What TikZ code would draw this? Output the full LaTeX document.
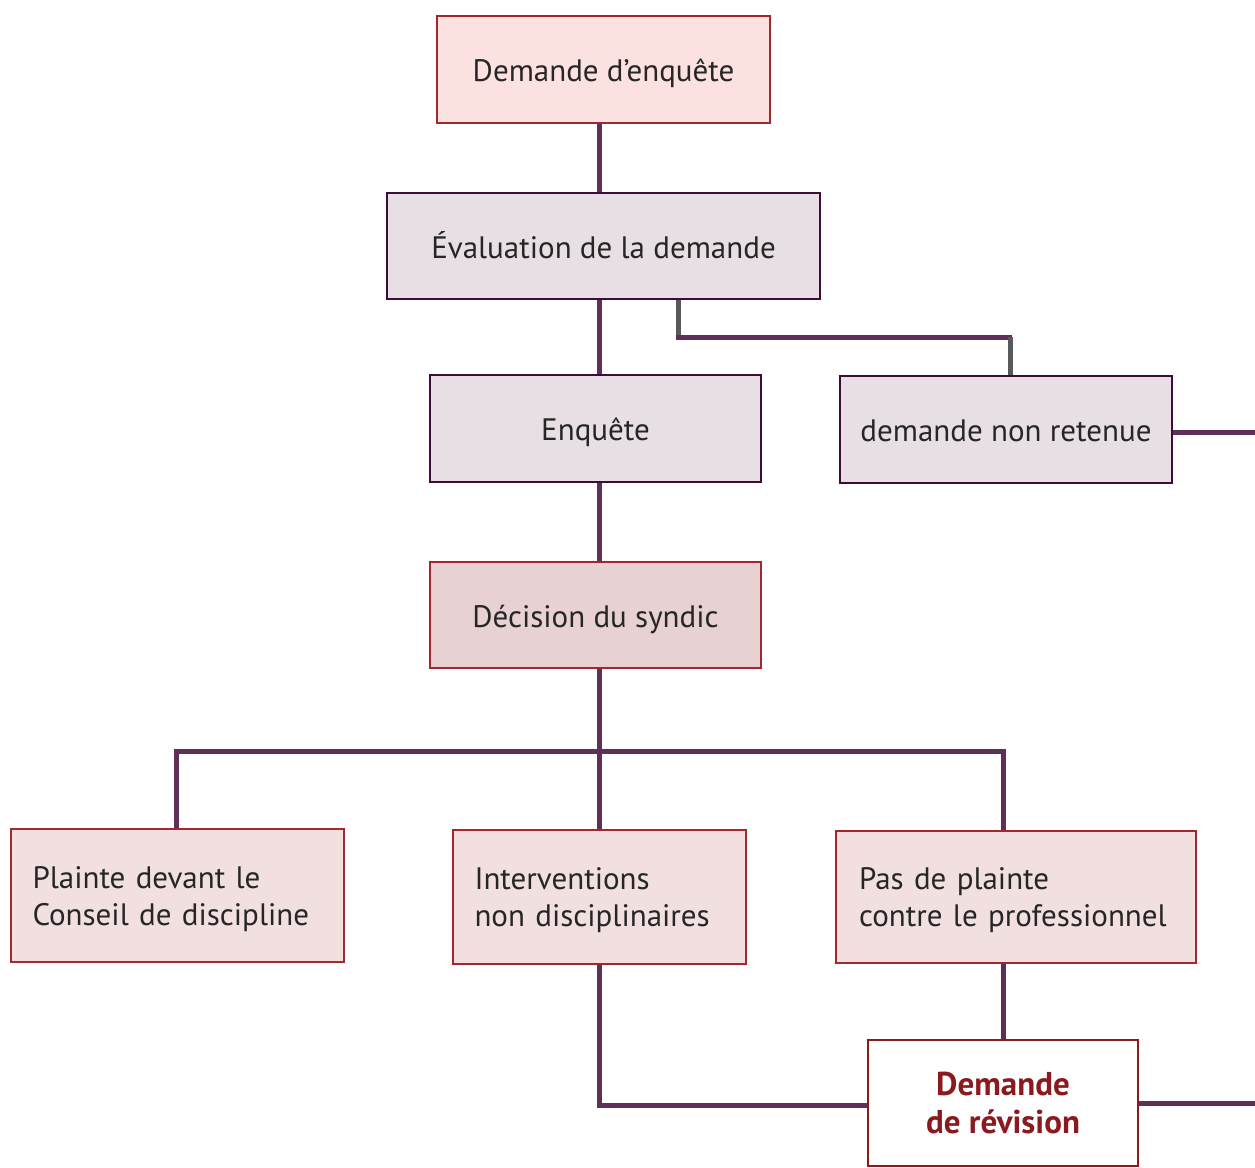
\documentclass[tikz,border=0pt]{standalone}
\usepackage{fontspec}
\setmainfont{PT Sans}
\definecolor{conn}{HTML}{5E2F58}
\definecolor{connGray}{HTML}{58595B}
\definecolor{redBorder}{HTML}{A3282E}
\definecolor{purpBorder}{HTML}{3E0C38}
\definecolor{fillTop}{HTML}{FCE1E1}
\definecolor{fillEval}{HTML}{E7DFE4}
\definecolor{fillDec}{HTML}{E8D1D2}
\definecolor{fillLow}{HTML}{F2DFE0}
\definecolor{revText}{HTML}{8B1A1E}
\begin{document}
\begin{tikzpicture}[x=1pt,y=-1pt,
  basebox/.style={rectangle, inner sep=0pt, line width=1.2pt, font=\fontsize{31}{37}\selectfont, text=black!85},
  onebox/.style={basebox, text height=27pt, text depth=3pt},
  topbox/.style={onebox, draw=redBorder, fill=fillTop},
  evalbox/.style={onebox, draw=purpBorder, fill=fillEval},
  decbox/.style={onebox, draw=redBorder, fill=fillDec},
  lowbox/.style={basebox, draw=redBorder, fill=fillLow, align=left},
  revbox/.style={basebox, draw=revText, fill=white, line width=2pt, align=center, text=revText, font=\fontsize{33}{37}\selectfont\bfseries},
  conn/.style={draw=conn, line width=5pt},
  conngray/.style={draw=connGray, line width=5pt}
]
\useasboundingbox[fill=white] (0,0) rectangle (1255,1167);

\node[topbox, minimum width=333pt, minimum height=107pt] (dem) at (603.5,69.5) {Demande d’enquête};
\node[evalbox, minimum width=433pt, minimum height=106pt] (eval) at (603.5,246) {Évaluation de la demande};
\node[evalbox, minimum width=331pt, minimum height=107pt] (enq) at (595.5,428.5) {Enquête};
\node[evalbox, minimum width=332pt, minimum height=107pt] (nr) at (1006,429.5) {demande non retenue};
\node[decbox, minimum width=331pt, minimum height=106pt] (dec) at (595.5,615) {Décision du syndic};

\node[lowbox, minimum width=333pt, minimum height=133pt, text width=290pt] (pl) at (177.5,895.5) {\rule{0pt}{29pt}Plainte devant le\\Conseil de discipline};
\node[lowbox, minimum width=293pt, minimum height=134pt, text width=250pt] (int) at (599.5,897) {\rule{0pt}{29pt}Interventions\\non disciplinaires};
\node[lowbox, minimum width=360pt, minimum height=132pt, text width=314pt] (pas) at (1016,897) {\rule{0pt}{29pt}Pas de plainte\\contre le professionnel};
\node[revbox, minimum width=270pt, minimum height=126pt] (rev) at (1003,1103) {Demande\\de révision};

\coordinate (xMain) at (599.5,0);
\coordinate (xE) at (678,0);
\coordinate (xN) at (1010,0);
\coordinate (xL) at (176,0);
\coordinate (xR) at (1003,0);
\coordinate (edge) at (1255,0);

\draw[conn] (dem.south -| xMain) -- (eval.north -| xMain);
\draw[conn] (eval.south -| xMain) -- (enq.north -| xMain);
\draw[conn] (enq.south -| xMain) -- (dec.north -| xMain);
\draw[conn] (dec.south -| xMain) -- (int.north -| xMain);
\draw[conngray] (eval.south -| xE) -- (678,337);
\draw[conn] (676,337) -- (1012,337);
\draw[conngray] (1010,337) -- (nr.north -| xN);
\draw[conn] ([yshift=-3pt]nr.east) -- ([yshift=-3pt]nr.east -| edge);
\draw[conn] (pl.north -| xL) -- (176,751) -- (1003,751) -- (pas.north -| xR);
\draw[conn] (pas.south -| xR) -- (rev.north -| xR);
\draw[conn] (int.south -| xMain) |- ([yshift=-2pt]rev.west);
\draw[conn] (rev.east) -- (rev.east -| edge);
\end{tikzpicture}
\end{document}
